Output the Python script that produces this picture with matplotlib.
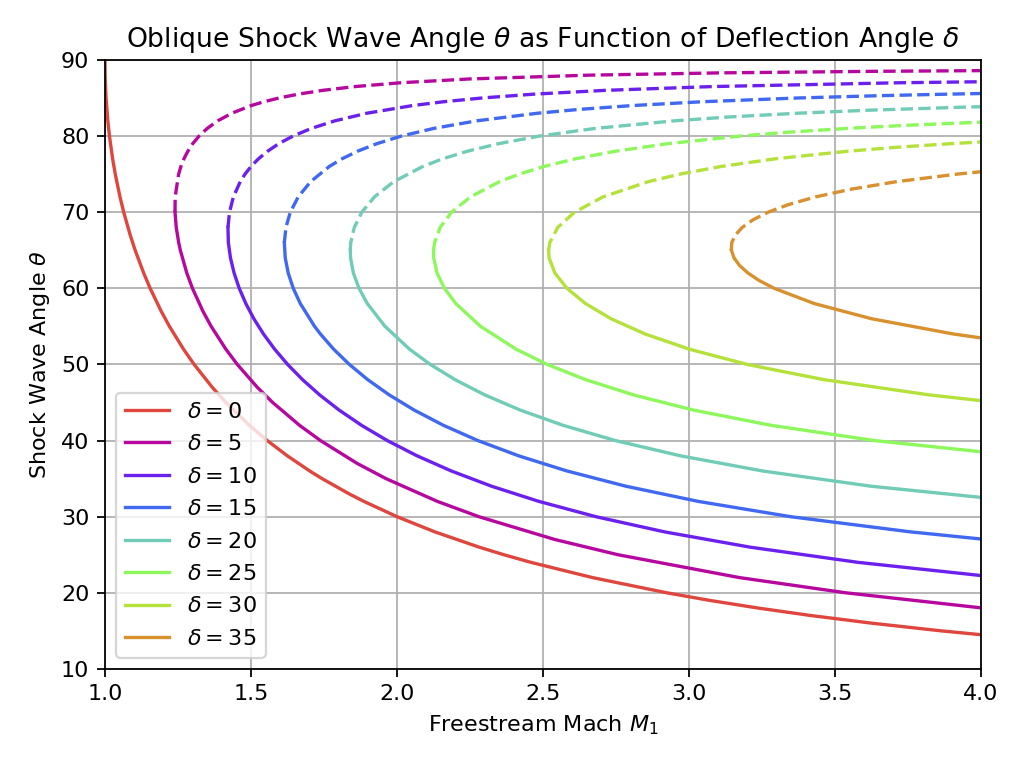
import numpy as np
import matplotlib
matplotlib.use("Agg")
import matplotlib.pyplot as plt

# deflection angles (deg)
deltas = [0, 5, 10, 15, 20, 25, 30, 35]
colors = ["#de463e", "#b6089f", "#6c20ee", "#4068f0",
          "#70ccb6", "#8cf85c", "#b4e23a", "#d8912e"]

# shock angle theta (deg) and freestream Mach M1
theta_0 = [14, 15, 16, 17, 18, 19, 20, 22, 24, 25, 26, 28, 30, 32, 33, 35, 36, 38, 40, 42, 45, 47,
           50, 52, 55, 57, 60, 62, 65, 67, 70, 72, 75, 77, 80, 82, 85, 87, 88, 90]
mach_0 = [4.1336, 3.8637, 3.6280, 3.4203, 3.2361, 3.0715, 2.9238, 2.6695, 2.4586, 2.3662, 2.2812,
          2.1301, 2.0, 1.8871, 1.8361, 1.7434, 1.7013, 1.6243, 1.5557, 1.4945, 1.4142, 1.3673,
          1.3054, 1.2690, 1.2208, 1.1924, 1.1547, 1.1326, 1.1034, 1.0864, 1.0642, 1.0515, 1.0353,
          1.0263, 1.0154, 1.0098, 1.0038, 1.0014, 1.0006, 1.0]

theta_5 = [18, 20, 22, 25, 27, 30, 32, 35, 37, 40, 42, 45, 47, 50, 52, 55, 57, 60, 62, 65, 66, 68,
           70, 72, 75, 76, 77, 78, 79, 80, 81, 82, 83, 84, 84.5, 85, 85.5, 86, 86.5, 87, 87.5, 88,
           88.3, 88.5, 88.6]
mach_5 = [4.0057, 3.5368, 3.1725, 2.7569, 2.5408, 2.2804, 2.1388, 1.9622, 1.8635, 1.7379, 1.6664,
          1.5743, 1.5215, 1.4532, 1.4141, 1.3637, 1.3353, 1.2996, 1.2803, 1.2581, 1.2525, 1.2441,
          1.2399, 1.2404, 1.2523, 1.2601, 1.2704, 1.2837, 1.3006, 1.3223, 1.3502, 1.3865, 1.4346,
          1.5008, 1.5439, 1.5962, 1.6618, 1.7456, 1.8569, 2.0130, 2.2497, 2.6620, 3.1147, 3.633,
          4.035]

theta_10 = [22, 24, 26, 28, 30, 32, 34, 36, 38, 40, 42, 44, 46, 48, 50, 52, 54, 56, 58, 60, 62, 64,
            66, 68, 70, 72, 74, 75, 76, 77, 78, 79, 80, 81, 82, 83, 84, 84.5, 85, 85.5, 86, 86.5,
            87, 87.2]
mach_10 = [4.0647, 3.5787, 3.2085, 2.9168, 2.6810, 2.4867, 2.3240, 2.1863, 2.0684, 1.9668, 1.8787,
           1.8020, 1.7351, 1.6766, 1.6255, 1.5811, 1.5428, 1.5099, 1.4824, 1.4598, 1.4423, 1.4298,
           1.4226, 1.4212, 1.4265, 1.4398, 1.4632, 1.4797, 1.5001, 1.5254, 1.5567, 1.5955, 1.6443,
           1.7066, 1.7878, 1.8975, 2.0531, 2.1584, 2.2920, 2.4681, 2.7128, 3.0814, 3.722, 4.146]

theta_15 = [27, 28, 30, 32, 34, 36, 38, 40, 42, 44, 46, 48, 50, 52, 54, 55, 58, 60, 62, 64, 66, 68,
            70, 72, 74, 76, 77, 78, 79, 80, 81, 82, 83, 83.5, 84, 84.5, 85, 85.3, 85.5, 85.6]
mach_15 = [4.0175, 3.7594, 3.3477, 3.0329, 2.7841, 2.5824, 2.4161, 2.2769, 2.1592, 2.0590, 1.9733,
           1.8998, 1.8369, 1.7831, 1.7377, 1.7178, 1.6689, 1.6448, 1.6276, 1.6173, 1.6143, 1.6197,
           1.6348, 1.6617, 1.7041, 1.7681, 1.8113, 1.8647, 1.9313, 2.0157, 2.1256, 2.2734, 2.4827,
           2.6243, 2.8043, 3.0423, 3.3753, 3.6507, 3.884, 4.0216]

theta_20 = [32, 34, 36, 38, 40, 42, 44, 46, 48, 50, 52, 55, 58, 60, 62, 64, 65, 66, 68, 70, 72, 74,
            76, 77, 78, 79, 80, 81, 82, 82.5, 83, 83.4, 83.8, 84]
mach_20 = [4.136, 3.6235, 3.2525, 2.9702, 2.7480, 2.5688, 2.4221, 2.3004, 2.1989, 2.1139, 2.0430,
           1.9590, 1.8983, 1.8699, 1.8507, 1.8411, 1.8401, 1.8417, 1.8539, 1.8797, 1.9227, 1.9888,
           2.0883, 2.1560, 2.2406, 2.3482, 2.4886, 2.6785, 2.9500, 3.1354, 3.3739, 3.6215, 3.9476,
           4.154]

theta_25 = [38, 40, 42, 44, 46, 48, 50, 52, 55, 58, 60, 62, 64, 65, 66, 68, 70, 72, 74, 75, 76, 77,
            78, 79, 80, 80.5, 81, 81.4, 81.8, 82]
mach_25 = [4.131, 3.6348, 3.2811, 3.0157, 2.8095, 2.6460, 2.5144, 2.4081, 2.2862, 2.2013, 2.1625,
           2.1373, 2.1257, 2.1253, 2.1287, 2.1480, 2.1870, 2.2514, 2.3508, 2.4188, 2.5035, 2.6102,
           2.7472, 2.9280, 3.1766, 3.3394, 3.5405, 3.7394, 3.986, 4.133]

theta_30 = [45, 46, 48, 50, 52, 54, 56, 58, 60, 62, 64, 65, 66, 68, 70, 72, 74, 75, 76, 77, 78, 78.5,
            79, 79.4]
mach_30 = [4.0566, 3.8221, 3.4621, 3.1993, 3.0012, 2.8495, 2.7331, 2.6453, 2.5820, 2.5408, 2.5210,
           2.5193, 2.5234, 2.5507, 2.6081, 2.7052, 2.8602, 2.9696, 3.1099, 3.2937, 3.5426, 3.7029,
           3.8971, 4.085]

theta_35 = [53, 54, 56, 58, 60, 61, 62, 63, 64, 65, 66, 67, 68, 69, 70, 71, 72, 73, 74, 75, 75.5]
mach_35 = [4.0881, 3.9049, 3.6253, 3.4285, 3.2916, 3.2413, 3.2021, 3.1731, 3.1542, 3.1452, 3.1465,
           3.1587, 3.1825, 3.2194, 3.2713, 3.3411, 3.4329, 3.5527, 3.7097, 3.9185, 4.0496]

thetas = [theta_0, theta_5, theta_10, theta_15, theta_20, theta_25, theta_30, theta_35]
machs = [mach_0, mach_5, mach_10, mach_15, mach_20, mach_25, mach_30, mach_35]

fig, ax = plt.subplots(figsize=(6.4, 4.8), dpi=160)

for d, th, m, c in zip(deltas, thetas, machs, colors):
    th = np.array(th)
    m = np.array(m)
    i = int(np.argmin(m))
    # weak branch solid, strong branch dashed
    ax.plot(m[:i + 1], th[:i + 1], color=c, lw=1.5, label=r"$\delta = %d$" % d)
    if i < len(m) - 1:
        ax.plot(m[i:], th[i:], color=c, lw=1.5, ls="--")

ax.set_xlim(1.0, 4.0)
ax.set_ylim(10, 90)
ax.set_title(r"Oblique Shock Wave Angle $\theta$ as Function of Deflection Angle $\delta$")
ax.set_xlabel(r"Freestream Mach $M_1$")
ax.set_ylabel(r"Shock Wave Angle $\theta$")
ax.grid(True)
ax.legend(loc="lower left", labelspacing=0.56)

fig.subplots_adjust(left=0.1025, right=0.958, top=0.922, bottom=0.129)
fig.savefig("out.png", dpi=160)
